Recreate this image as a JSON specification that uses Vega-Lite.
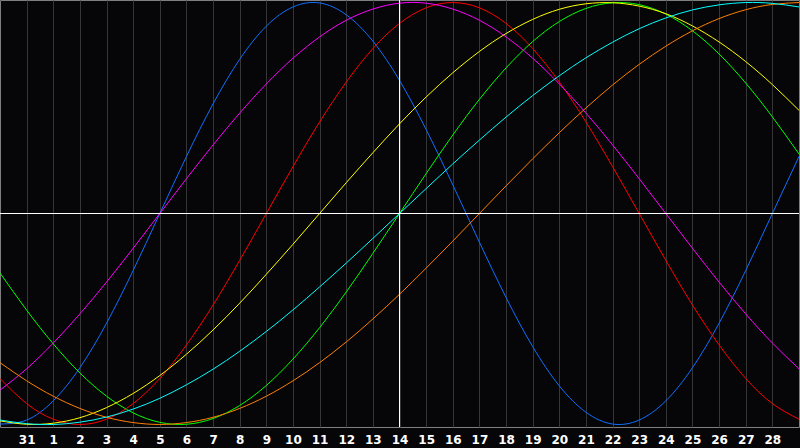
{
  "$schema": "https://vega.github.io/schema/vega-lite/v6.json",
  "width": 799,
  "height": 427,
  "autosize": {"type": "none"},
  "padding": {"left": 0, "top": 0, "right": 1, "bottom": 21},
  "background": "#060609",
  "config": {
    "view": {"stroke": "#7f7f7f", "fill": "#060609"},
    "axis": {"labelOverlap": false},
    "axisX": {"labelOverlap": false}
  },
  "datasets": {
    "curves": [
      {"c": "physical", "d": -1, "v": -0.998}, {"c": "physical", "d": 0, "v": -0.979}, {"c": "physical", "d": 1, "v": -0.888}, {"c": "physical", "d": 2, "v": -0.731},
      {"c": "physical", "d": 3, "v": -0.520}, {"c": "physical", "d": 4, "v": -0.270}, {"c": "physical", "d": 5, "v": 0}, {"c": "physical", "d": 6, "v": 0.270},
      {"c": "physical", "d": 7, "v": 0.520}, {"c": "physical", "d": 8, "v": 0.731}, {"c": "physical", "d": 9, "v": 0.888}, {"c": "physical", "d": 10, "v": 0.979},
      {"c": "physical", "d": 11, "v": 0.998}, {"c": "physical", "d": 12, "v": 0.942}, {"c": "physical", "d": 13, "v": 0.817}, {"c": "physical", "d": 14, "v": 0.631},
      {"c": "physical", "d": 15, "v": 0.398}, {"c": "physical", "d": 16, "v": 0.136}, {"c": "physical", "d": 17, "v": -0.136}, {"c": "physical", "d": 18, "v": -0.398},
      {"c": "physical", "d": 19, "v": -0.631}, {"c": "physical", "d": 20, "v": -0.817}, {"c": "physical", "d": 21, "v": -0.942}, {"c": "physical", "d": 22, "v": -0.998},
      {"c": "physical", "d": 23, "v": -0.979}, {"c": "physical", "d": 24, "v": -0.888}, {"c": "physical", "d": 25, "v": -0.731}, {"c": "physical", "d": 26, "v": -0.520},
      {"c": "physical", "d": 27, "v": -0.270}, {"c": "physical", "d": 28, "v": 0}, {"c": "physical", "d": 29, "v": 0.270},

      {"c": "emotional", "d": -1, "v": -0.782}, {"c": "emotional", "d": 0, "v": -0.901}, {"c": "emotional", "d": 1, "v": -0.975}, {"c": "emotional", "d": 2, "v": -1},
      {"c": "emotional", "d": 3, "v": -0.975}, {"c": "emotional", "d": 4, "v": -0.901}, {"c": "emotional", "d": 5, "v": -0.782}, {"c": "emotional", "d": 6, "v": -0.623},
      {"c": "emotional", "d": 7, "v": -0.434}, {"c": "emotional", "d": 8, "v": -0.222}, {"c": "emotional", "d": 9, "v": 0}, {"c": "emotional", "d": 10, "v": 0.222},
      {"c": "emotional", "d": 11, "v": 0.434}, {"c": "emotional", "d": 12, "v": 0.623}, {"c": "emotional", "d": 13, "v": 0.782}, {"c": "emotional", "d": 14, "v": 0.901},
      {"c": "emotional", "d": 15, "v": 0.975}, {"c": "emotional", "d": 16, "v": 1}, {"c": "emotional", "d": 17, "v": 0.975}, {"c": "emotional", "d": 18, "v": 0.901},
      {"c": "emotional", "d": 19, "v": 0.782}, {"c": "emotional", "d": 20, "v": 0.623}, {"c": "emotional", "d": 21, "v": 0.434}, {"c": "emotional", "d": 22, "v": 0.222},
      {"c": "emotional", "d": 23, "v": 0}, {"c": "emotional", "d": 24, "v": -0.222}, {"c": "emotional", "d": 25, "v": -0.434}, {"c": "emotional", "d": 26, "v": -0.623},
      {"c": "emotional", "d": 27, "v": -0.782}, {"c": "emotional", "d": 28, "v": -0.901}, {"c": "emotional", "d": 29, "v": -0.975},

      {"c": "intellectual", "d": -1, "v": -0.282}, {"c": "intellectual", "d": 0, "v": -0.458}, {"c": "intellectual", "d": 1, "v": -0.618}, {"c": "intellectual", "d": 2, "v": -0.756},
      {"c": "intellectual", "d": 3, "v": -0.866}, {"c": "intellectual", "d": 4, "v": -0.945}, {"c": "intellectual", "d": 5, "v": -0.990}, {"c": "intellectual", "d": 6, "v": -0.999},
      {"c": "intellectual", "d": 7, "v": -0.972}, {"c": "intellectual", "d": 8, "v": -0.910}, {"c": "intellectual", "d": 9, "v": -0.815}, {"c": "intellectual", "d": 10, "v": -0.690},
      {"c": "intellectual", "d": 11, "v": -0.541}, {"c": "intellectual", "d": 12, "v": -0.372}, {"c": "intellectual", "d": 13, "v": -0.189}, {"c": "intellectual", "d": 14, "v": 0},
      {"c": "intellectual", "d": 15, "v": 0.189}, {"c": "intellectual", "d": 16, "v": 0.372}, {"c": "intellectual", "d": 17, "v": 0.541}, {"c": "intellectual", "d": 18, "v": 0.690},
      {"c": "intellectual", "d": 19, "v": 0.815}, {"c": "intellectual", "d": 20, "v": 0.910}, {"c": "intellectual", "d": 21, "v": 0.972}, {"c": "intellectual", "d": 22, "v": 0.999},
      {"c": "intellectual", "d": 23, "v": 0.990}, {"c": "intellectual", "d": 24, "v": 0.945}, {"c": "intellectual", "d": 25, "v": 0.866}, {"c": "intellectual", "d": 26, "v": 0.756},
      {"c": "intellectual", "d": 27, "v": 0.618}, {"c": "intellectual", "d": 28, "v": 0.458}, {"c": "intellectual", "d": 29, "v": 0.282},

      {"c": "intuitive", "d": -1, "v": -0.837}, {"c": "intuitive", "d": 0, "v": -0.736}, {"c": "intuitive", "d": 1, "v": -0.614}, {"c": "intuitive", "d": 2, "v": -0.476},
      {"c": "intuitive", "d": 3, "v": -0.325}, {"c": "intuitive", "d": 4, "v": -0.165}, {"c": "intuitive", "d": 5, "v": 0}, {"c": "intuitive", "d": 6, "v": 0.165},
      {"c": "intuitive", "d": 7, "v": 0.325}, {"c": "intuitive", "d": 8, "v": 0.476}, {"c": "intuitive", "d": 9, "v": 0.614}, {"c": "intuitive", "d": 10, "v": 0.736},
      {"c": "intuitive", "d": 11, "v": 0.837}, {"c": "intuitive", "d": 12, "v": 0.916}, {"c": "intuitive", "d": 13, "v": 0.969}, {"c": "intuitive", "d": 14, "v": 0.997},
      {"c": "intuitive", "d": 15, "v": 0.997}, {"c": "intuitive", "d": 16, "v": 0.969}, {"c": "intuitive", "d": 17, "v": 0.916}, {"c": "intuitive", "d": 18, "v": 0.837},
      {"c": "intuitive", "d": 19, "v": 0.736}, {"c": "intuitive", "d": 20, "v": 0.614}, {"c": "intuitive", "d": 21, "v": 0.476}, {"c": "intuitive", "d": 22, "v": 0.325},
      {"c": "intuitive", "d": 23, "v": 0.165}, {"c": "intuitive", "d": 24, "v": 0}, {"c": "intuitive", "d": 25, "v": -0.165}, {"c": "intuitive", "d": 26, "v": -0.325},
      {"c": "intuitive", "d": 27, "v": -0.476}, {"c": "intuitive", "d": 28, "v": -0.614}, {"c": "intuitive", "d": 29, "v": -0.736},

      {"c": "aesthetic", "d": -1, "v": -0.983}, {"c": "aesthetic", "d": 0, "v": -0.999}, {"c": "aesthetic", "d": 1, "v": -0.994}, {"c": "aesthetic", "d": 2, "v": -0.968},
      {"c": "aesthetic", "d": 3, "v": -0.920}, {"c": "aesthetic", "d": 4, "v": -0.853}, {"c": "aesthetic", "d": 5, "v": -0.768}, {"c": "aesthetic", "d": 6, "v": -0.667},
      {"c": "aesthetic", "d": 7, "v": -0.552}, {"c": "aesthetic", "d": 8, "v": -0.425}, {"c": "aesthetic", "d": 9, "v": -0.288}, {"c": "aesthetic", "d": 10, "v": -0.146},
      {"c": "aesthetic", "d": 11, "v": 0}, {"c": "aesthetic", "d": 12, "v": 0.146}, {"c": "aesthetic", "d": 13, "v": 0.288}, {"c": "aesthetic", "d": 14, "v": 0.425},
      {"c": "aesthetic", "d": 15, "v": 0.552}, {"c": "aesthetic", "d": 16, "v": 0.667}, {"c": "aesthetic", "d": 17, "v": 0.768}, {"c": "aesthetic", "d": 18, "v": 0.853},
      {"c": "aesthetic", "d": 19, "v": 0.920}, {"c": "aesthetic", "d": 20, "v": 0.968}, {"c": "aesthetic", "d": 21, "v": 0.994}, {"c": "aesthetic", "d": 22, "v": 0.999},
      {"c": "aesthetic", "d": 23, "v": 0.983}, {"c": "aesthetic", "d": 24, "v": 0.947}, {"c": "aesthetic", "d": 25, "v": 0.889}, {"c": "aesthetic", "d": 26, "v": 0.813},
      {"c": "aesthetic", "d": 27, "v": 0.720}, {"c": "aesthetic", "d": 28, "v": 0.611}, {"c": "aesthetic", "d": 29, "v": 0.489},

      {"c": "awareness", "d": -1, "v": -0.707}, {"c": "awareness", "d": 0, "v": -0.793}, {"c": "awareness", "d": 1, "v": -0.866}, {"c": "awareness", "d": 2, "v": -0.924},
      {"c": "awareness", "d": 3, "v": -0.966}, {"c": "awareness", "d": 4, "v": -0.991}, {"c": "awareness", "d": 5, "v": -1}, {"c": "awareness", "d": 6, "v": -0.991},
      {"c": "awareness", "d": 7, "v": -0.966}, {"c": "awareness", "d": 8, "v": -0.924}, {"c": "awareness", "d": 9, "v": -0.866}, {"c": "awareness", "d": 10, "v": -0.793},
      {"c": "awareness", "d": 11, "v": -0.707}, {"c": "awareness", "d": 12, "v": -0.609}, {"c": "awareness", "d": 13, "v": -0.5}, {"c": "awareness", "d": 14, "v": -0.383},
      {"c": "awareness", "d": 15, "v": -0.259}, {"c": "awareness", "d": 16, "v": -0.131}, {"c": "awareness", "d": 17, "v": 0}, {"c": "awareness", "d": 18, "v": 0.131},
      {"c": "awareness", "d": 19, "v": 0.259}, {"c": "awareness", "d": 20, "v": 0.383}, {"c": "awareness", "d": 21, "v": 0.5}, {"c": "awareness", "d": 22, "v": 0.609},
      {"c": "awareness", "d": 23, "v": 0.707}, {"c": "awareness", "d": 24, "v": 0.793}, {"c": "awareness", "d": 25, "v": 0.866}, {"c": "awareness", "d": 26, "v": 0.924},
      {"c": "awareness", "d": 27, "v": 0.966}, {"c": "awareness", "d": 28, "v": 0.991}, {"c": "awareness", "d": 29, "v": 1},

      {"c": "spiritual", "d": -1, "v": -0.979}, {"c": "spiritual", "d": 0, "v": -0.996}, {"c": "spiritual", "d": 1, "v": -1}, {"c": "spiritual", "d": 2, "v": -0.989},
      {"c": "spiritual", "d": 3, "v": -0.965}, {"c": "spiritual", "d": 4, "v": -0.927}, {"c": "spiritual", "d": 5, "v": -0.876}, {"c": "spiritual", "d": 6, "v": -0.812},
      {"c": "spiritual", "d": 7, "v": -0.738}, {"c": "spiritual", "d": 8, "v": -0.653}, {"c": "spiritual", "d": 9, "v": -0.559}, {"c": "spiritual", "d": 10, "v": -0.457},
      {"c": "spiritual", "d": 11, "v": -0.348}, {"c": "spiritual", "d": 12, "v": -0.235}, {"c": "spiritual", "d": 13, "v": -0.118}, {"c": "spiritual", "d": 14, "v": 0},
      {"c": "spiritual", "d": 15, "v": 0.118}, {"c": "spiritual", "d": 16, "v": 0.235}, {"c": "spiritual", "d": 17, "v": 0.348}, {"c": "spiritual", "d": 18, "v": 0.457},
      {"c": "spiritual", "d": 19, "v": 0.559}, {"c": "spiritual", "d": 20, "v": 0.653}, {"c": "spiritual", "d": 21, "v": 0.738}, {"c": "spiritual", "d": 22, "v": 0.812},
      {"c": "spiritual", "d": 23, "v": 0.876}, {"c": "spiritual", "d": 24, "v": 0.927}, {"c": "spiritual", "d": 25, "v": 0.965}, {"c": "spiritual", "d": 26, "v": 0.989},
      {"c": "spiritual", "d": 27, "v": 1}, {"c": "spiritual", "d": 28, "v": 0.996}, {"c": "spiritual", "d": 29, "v": 0.979}
    ],
    "today": [{"d": 14}],
    "zeroLine": [{"v": 0}]
  },
  "layer": [
    {
      "data": {"name": "curves"},
      "mark": {"type": "line", "interpolate": "natural", "strokeWidth": 1, "clip": true},
      "encoding": {
        "x": {
          "field": "d",
          "type": "quantitative",
          "scale": {"domain": [-1, 29], "nice": false, "zero": false},
          "axis": {
            "title": null,
            "values": [0, 1, 2, 3, 4, 5, 6, 7, 8, 9, 10, 11, 12, 13, 14, 15, 16, 17, 18, 19, 20, 21, 22, 23, 24, 25, 26, 27, 28],
            "labelExpr": "datum.value < 1 ? '31' : datum.label",
            "domain": false,
            "ticks": false,
            "tickSize": 0,
            "grid": true,
            "gridColor": "#363636",
            "gridOpacity": 1,
            "labelColor": "#ffffff",
            "labelFont": "DejaVu Sans",
            "labelFontWeight": "bold",
            "labelFontSize": 12,
            "labelBaseline": "alphabetic",
            "labelPadding": 16,
            "labelFlush": false,
            "labelOverlap": false,
            "labelSeparation": 0
          }
        },
        "y": {
          "field": "v",
          "type": "quantitative",
          "scale": {"domain": [-1.012, 1.012], "nice": false, "zero": false},
          "axis": null
        },
        "color": {
          "field": "c",
          "type": "nominal",
          "scale": {
            "domain": ["physical", "emotional", "intellectual", "intuitive", "aesthetic", "awareness", "spiritual"],
            "range": ["#1070ff", "#ff0000", "#00ff00", "#ff00ff", "#ffff00", "#ff8000", "#00ffff"]
          },
          "legend": null
        }
      }
    },
    {
      "data": {"name": "today"},
      "mark": {"type": "rule", "color": "#ffffff", "strokeWidth": 1},
      "encoding": {
        "x": {
          "field": "d",
          "type": "quantitative",
          "scale": {"domain": [-1, 29], "nice": false, "zero": false},
          "axis": {
            "title": null,
            "values": [0, 1, 2, 3, 4, 5, 6, 7, 8, 9, 10, 11, 12, 13, 14, 15, 16, 17, 18, 19, 20, 21, 22, 23, 24, 25, 26, 27, 28],
            "labelExpr": "datum.value < 1 ? '31' : datum.label",
            "labelOverlap": false
          }
        }
      }
    },
    {
      "data": {"name": "zeroLine"},
      "mark": {"type": "rule", "color": "#ffffff", "strokeWidth": 1},
      "encoding": {
        "y": {"field": "v", "type": "quantitative", "scale": {"domain": [-1.012, 1.012], "nice": false, "zero": false}}
      }
    }
  ]
}
